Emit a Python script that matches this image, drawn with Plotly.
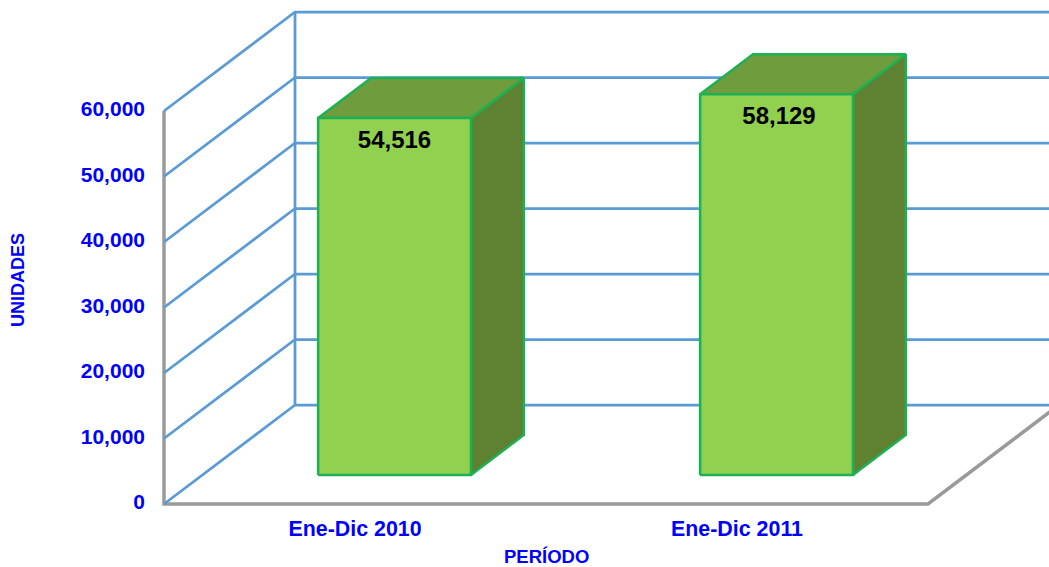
import plotly.graph_objects as go

categories = ["Ene-Dic 2010", "Ene-Dic 2011"]
values = [54516, 58129]
value_labels = ["54,516", "58,129"]
tick_values = [0, 10000, 20000, 30000, 40000, 50000, 60000]
tick_labels = ["0", "10,000", "20,000", "30,000", "40,000", "50,000", "60,000"]

W, H = 1049, 567
L, B = 164, 63            # pixel position of the chart origin
PAD = 10                  # plot area reaches this far past the origin so edge lines are not clipped
PX_PER_CAT = 382
PX_PER_VAL = 393 / 60000
DEPTH_DX = 131 / PX_PER_CAT
DEPTH_DY = 99 / PX_PER_VAL
BAR_W = 0.4
BAR_C = 0.503
D0, D1 = 0.293, 0.697
LABEL_DROP = 12 / PX_PER_VAL
LABEL_NUDGE = [0, 2.5 / PX_PER_CAT]
N = len(categories)
TOP = tick_values[-1]

GRID = "#5B9BD5"
AXIS = "#9A9A9A"
EDGE = "#1DB054"
FRONT = "#92D050"
TOPC = "#6F9C3C"
SIDE = "#5E8231"
BLUE = "#0000FF"


def P(cat, val, d):
    return cat + d * DEPTH_DX, val + d * DEPTH_DY


fig = go.Figure()


def line(pts, color, width):
    fig.add_trace(go.Scatter(x=[p[0] for p in pts], y=[p[1] for p in pts], mode="lines",
                             line=dict(color=color, width=width), hoverinfo="skip",
                             showlegend=False))


def poly(pts, fill, edge=EDGE, width=2.5):
    pts = pts + pts[:1]
    fig.add_trace(go.Scatter(x=[p[0] for p in pts], y=[p[1] for p in pts], mode="lines",
                             fill="toself", fillcolor=fill, line=dict(color=edge, width=width),
                             hoverinfo="skip", showlegend=False))


# floor / front axis first, walls on top of its origin
line([P(0, TOP, 0), P(0, 0, 0), P(N, 0, 0), P(N, 0, 1)], AXIS, 3.5)
for v in tick_values:
    line([P(0, v, 0), P(0, v, 1), P(N, v, 1)], GRID, 2.75)
line([P(0, 0, 1), P(0, TOP, 1)], GRID, 2.75)

# bars
for i, v in enumerate(values):
    c = i + BAR_C
    x0, x1 = c - BAR_W / 2, c + BAR_W / 2
    poly([P(x1, 0, D0), P(x1, 0, D1), P(x1, v, D1), P(x1, v, D0)], SIDE)
    poly([P(x0, v, D0), P(x0, v, D1), P(x1, v, D1), P(x1, v, D0)], TOPC)
    poly([P(x0, 0, D0), P(x1, 0, D0), P(x1, v, D0), P(x0, v, D0)], FRONT)

# value labels
lx, ly = zip(*[P(i + BAR_C + LABEL_NUDGE[i], v - LABEL_DROP, D0) for i, v in enumerate(values)])
fig.add_trace(go.Scatter(x=list(lx), y=list(ly), mode="text", text=value_labels,
                         textposition="bottom center",
                         textfont=dict(family="Liberation Sans", size=24, color="black", weight="bold"),
                         hoverinfo="skip", showlegend=False))

fig.update_layout(
    width=W, height=H, margin=dict(l=L - PAD, r=0, t=0, b=B - PAD, pad=0),
    paper_bgcolor="white", plot_bgcolor="white", showlegend=False,
    font=dict(family="Liberation Sans", color=BLUE),
    xaxis=dict(range=[-PAD / PX_PER_CAT, (W - L) / PX_PER_CAT], tickmode="array",
               tickvals=[i + 0.5 for i in range(N)], ticktext=categories,
               showgrid=False, zeroline=False, showline=False, ticks="",
               ticklabelstandoff=0,
               tickfont=dict(family="Liberation Sans", size=21.4, color=BLUE, weight="bold")),
    yaxis=dict(range=[-PAD / PX_PER_VAL, (H - B) / PX_PER_VAL], tickmode="array",
               tickvals=tick_values, ticktext=tick_labels,
               showgrid=False, zeroline=False, showline=False, ticks="",
               ticklabelstandoff=8, ticklabelshift=-2,
               tickfont=dict(family="Liberation Sans", size=21, color=BLUE, weight="bold")),
    annotations=[
        dict(text="<b>UNIDADES</b>", xref="paper", yref="paper",
             x=(18 - (L - PAD)) / (W - L + PAD), y=1 - 280 / (H - B + PAD),
             showarrow=False, textangle=-90, xanchor="center", yanchor="middle",
             font=dict(family="Liberation Sans", size=18, color=BLUE)),
        dict(text="<b>PERÍODO</b>", xref="paper", yref="paper",
             x=(546 - (L - PAD)) / (W - L + PAD), y=1 - 556.5 / (H - B + PAD),
             showarrow=False, xanchor="center", yanchor="middle", borderpad=0,
             font=dict(family="Liberation Sans", size=18.5, color=BLUE)),
    ],
)

fig.write_html("out.html", config={"displayModeBar": False},
               post_script="document.body.style.margin='0';document.documentElement.style.overflow='hidden';")
